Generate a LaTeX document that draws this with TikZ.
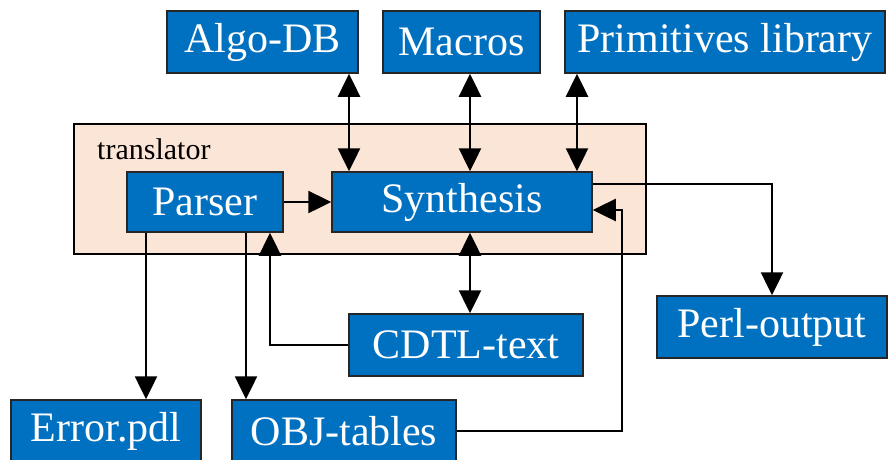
\documentclass[tikz,border=0pt]{standalone}
\usepackage{fontspec}
\setmainfont{Liberation Serif}
\usetikzlibrary{arrows.meta,calc}
\definecolor{boxblue}{HTML}{0070C0}
\definecolor{peach}{HTML}{FBE5D6}
\tikzset{
  blockbox/.style={draw=black!85, line width=1.5pt, fill=boxblue, text=white, inner sep=0pt,
    font=\fontsize{42}{48}\selectfont, minimum height=62pt},
  tip/.tip={Triangle[length=23pt,width=22pt]},
  conn/.style={line width=2.5pt, -tip},
  biconn/.style={line width=2.5pt, tip-tip},
}
\begin{document}
\begin{tikzpicture}[x=1pt,y=-1pt]
\useasboundingbox (0,0) rectangle (888,459);
% container
\node[draw=black, line width=1.8pt, fill=peach, minimum width=572pt, minimum height=130pt, inner sep=0pt] (trans) at (360,189) {};
\node[anchor=base west, inner sep=0pt, font=\fontsize{30}{34}\selectfont] (translbl) at (97,159) {translator};
% boxes
\node[blockbox, minimum width=191pt] (algo) at (262.5,42) {Algo-DB};
\node[blockbox, minimum width=157pt] (macros) at (461.5,42) {Macros};
\node[blockbox, minimum width=320pt] (prim) at (725,42) {Primitives library};
\node[blockbox, minimum width=156pt, minimum height=60pt] (parser) at (205,202) {Parser};
\node[blockbox, minimum width=260pt, minimum height=60pt] (synth) at (462,202) {Synthesis};
\node[blockbox, minimum width=234pt] (cdtl) at (466,345) {CDTL-text};
\node[blockbox, minimum width=230pt] (perl) at (772,327) {Perl-output};
\node[blockbox, minimum width=190pt] (error) at (106,431) {Error.pdl};
\node[blockbox, minimum width=224pt] (obj) at (344,431) {OBJ-tables};
% helper coordinates
\coordinate (xa) at (349,0);
\coordinate (xm) at (470,0);
\coordinate (xp) at (577,0);
\coordinate (xc) at (470,0);
\coordinate (yperl) at (0,184);
\coordinate (objturn) at (622,210);
\coordinate (xcd) at (270,0);
\coordinate (xe) at (146,0);
\coordinate (xo) at (246,0);
% connectors
\draw[biconn] (algo.south -| xa) -- (synth.north -| xa);
\draw[biconn] (macros.south -| xm) -- (synth.north -| xm);
\draw[biconn] (prim.south -| xp) -- (synth.north -| xp);
\draw[conn] (parser.east) -- (synth.west);
\draw[conn] (synth.east |- yperl) -| (perl.north);
\draw[conn] (obj.east) -| (objturn) -- (synth.east |- objturn);
\draw[biconn] (synth.south -| xc) -- (cdtl.north -| xc);
\draw[conn] (cdtl.west) -| (parser.south -| xcd);
\draw[conn] (parser.south -| xe) -- (error.north -| xe);
\draw[conn] (parser.south -| xo) -- (obj.north -| xo);
\end{tikzpicture}
\end{document}
